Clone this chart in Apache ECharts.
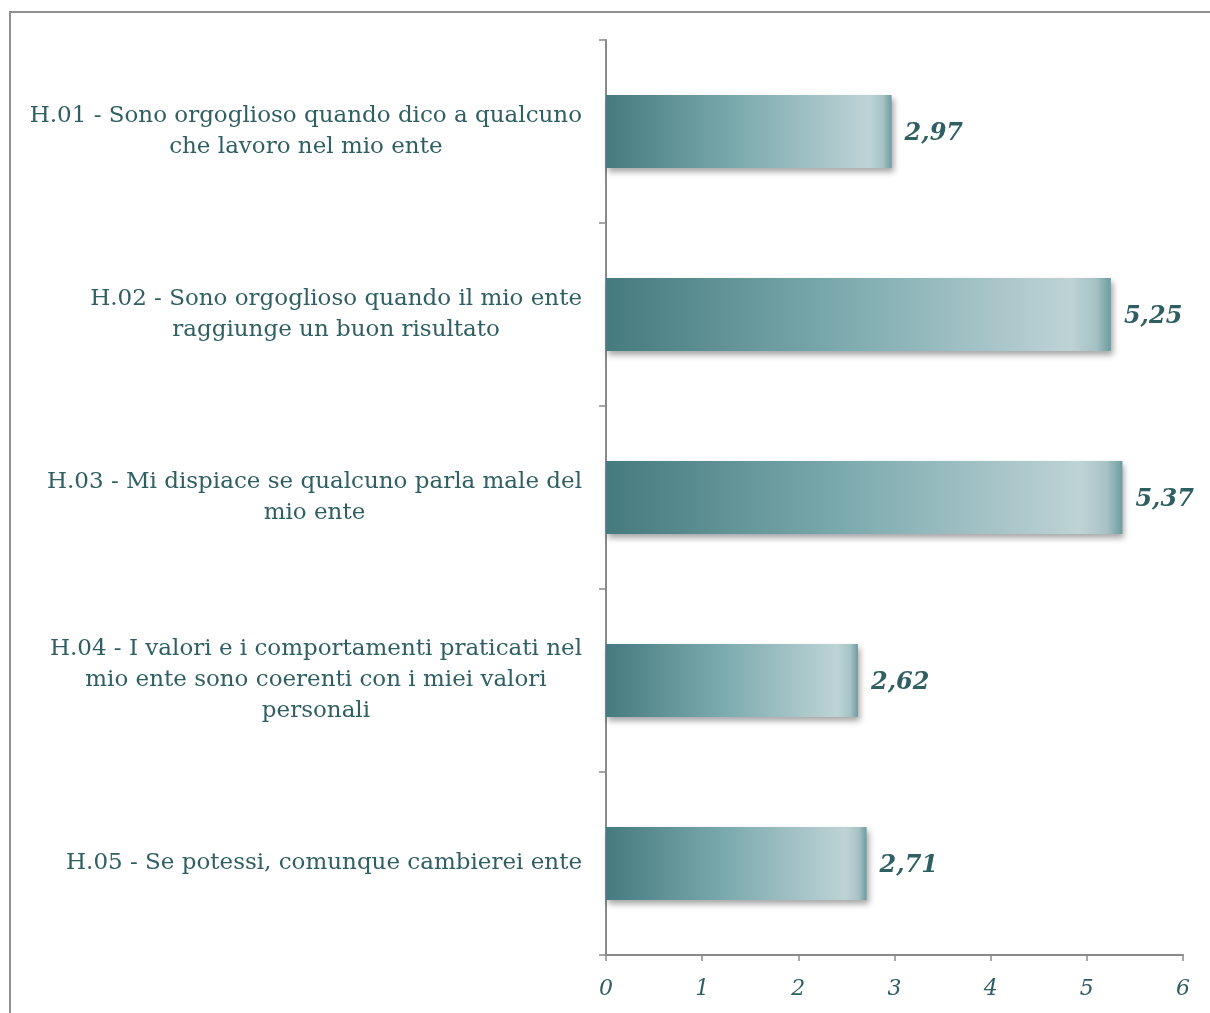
<!DOCTYPE html>
<html>
<head>
<meta charset="utf-8">
<script src="https://cdn.jsdelivr.net/npm/echarts@6/dist/echarts.min.js"></script>
<style>
  html, body { margin: 0; padding: 0; background: #ffffff; }
  #chart { width: 1210px; height: 1013px; }
</style>
</head>
<body>
<div id="chart"></div>
<script>
// Survey items (top to bottom) and their mean scores
const categories = [
  'H.01 - Sono orgoglioso quando dico a qualcuno\nche lavoro nel mio ente',
  'H.02 - Sono orgoglioso quando il mio ente\nraggiunge un buon risultato',
  'H.03 - Mi dispiace se qualcuno parla male del\nmio ente',
  'H.04 - I valori e i comportamenti praticati nel\nmio ente sono coerenti con i miei valori\npersonali',
  'H.05 - Se potessi, comunque cambierei ente'
];
const scores = [2.97, 5.25, 5.37, 2.62, 2.71];
const xTicks = [0, 1, 2, 3, 4, 5, 6];

const serif = '"DejaVu Serif", "Liberation Serif", serif';
const textColor = '#2f5f62';
const axisGray = '#8a8a8a';

const chart = echarts.init(document.getElementById('chart'), null, { renderer: 'canvas' });

const barFill = new echarts.graphic.LinearGradient(0, 0, 1, 0, [
  { offset: 0, color: '#457a7e' },
  { offset: 0.45, color: '#7aa9ad' },
  { offset: 0.92, color: '#bed3d6' },
  { offset: 0.97, color: '#a6c2c5' },
  { offset: 1, color: '#6c9ca0' }
]);

chart.setOption({
  backgroundColor: '#ffffff',
  animation: false,
  graphic: [
    {
      type: 'polyline',
      silent: true,
      shape: { points: [[10, 1013], [10, 12], [1210, 12]] },
      style: { stroke: '#8f8f8f', lineWidth: 2, fill: null }
    }
  ],
  grid: { left: 606, right: 27, top: 40, bottom: 58, containLabel: false },
  xAxis: {
    type: 'value',
    min: xTicks[0],
    max: xTicks[xTicks.length - 1],
    interval: 1,
    splitLine: { show: false },
    axisLine: { show: true, lineStyle: { color: axisGray, width: 2 } },
    axisTick: { show: true, length: 6, lineStyle: { color: axisGray, width: 1.5 } },
    axisLabel: {
      margin: 23,
      fontFamily: serif,
      fontStyle: 'italic',
      fontSize: 22,
      color: textColor,
      formatter: v => String(v)
    }
  },
  yAxis: {
    type: 'category',
    inverse: true,
    data: categories,
    axisLine: { show: true, lineStyle: { color: axisGray, width: 2 } },
    axisTick: { show: true, length: 7, lineStyle: { color: axisGray, width: 1.5 } },
    axisLabel: {
      margin: 24,
      align: 'right',
      fontFamily: serif,
      fontSize: 23,
      lineHeight: 31,
      color: textColor,
      formatter: v => v.split('\n').map(l => '{c|' + l + '}').join('\n'),
      rich: {
        c: { align: 'center', fontFamily: serif, fontSize: 23, lineHeight: 31, color: textColor }
      }
    }
  },
  series: [
    {
      type: 'bar',
      data: scores,
      barWidth: 73,
      itemStyle: {
        color: barFill,
        shadowColor: 'rgba(0,0,0,0.35)',
        shadowBlur: 6,
        shadowOffsetX: 2,
        shadowOffsetY: 4
      },
      label: {
        show: true,
        position: 'right',
        distance: 13,
        offset: [0, 2],
        fontFamily: serif,
        fontStyle: 'italic',
        fontWeight: 'bold',
        fontSize: 24,
        color: textColor,
        formatter: p => p.value.toFixed(2).replace('.', ',')
      }
    }
  ]
});
</script>
</body>
</html>
